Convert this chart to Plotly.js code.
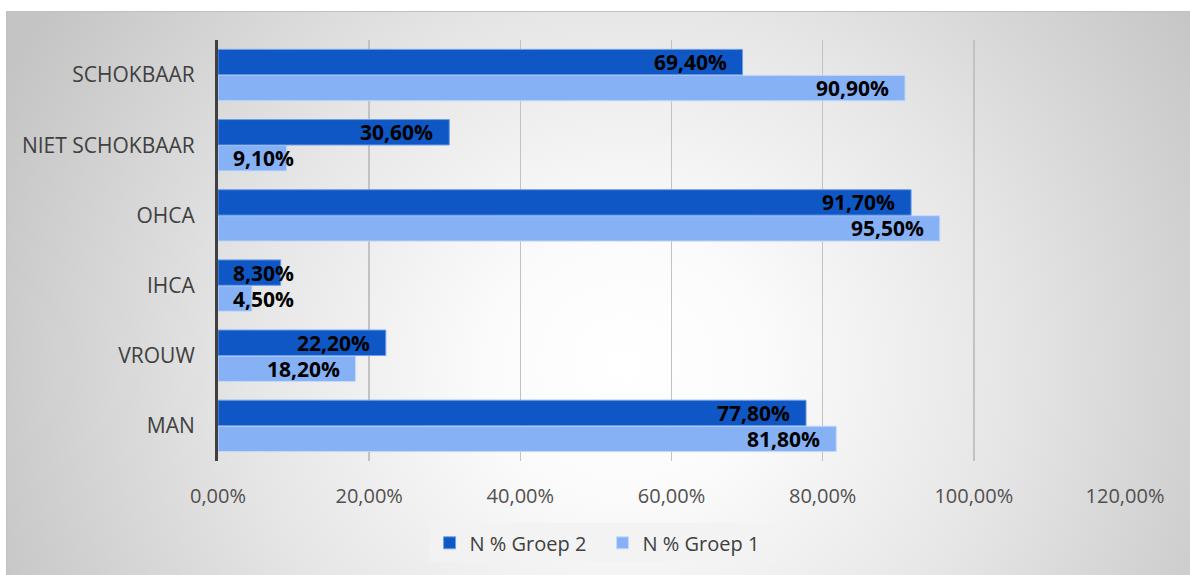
<!DOCTYPE html>
<html>
<head>
<meta charset="utf-8">
<script src="https://cdn.plot.ly/plotly-3.0.1.min.js"></script>
<style>
  html, body { margin: 0; padding: 0; width: 1190px; height: 575px; overflow: hidden; background: #ffffff; }
  #bg { position: absolute; left: 6px; top: 11px; width: 1190px; height: 570px;
        border-left: 1px solid #c0c0c0; border-top: 1px solid #c0c0c0;
        background: radial-gradient(ellipse 58% 115% at 52% 62%, #ffffff 0%, #fbfbfb 20%, #e6e6e6 55%, #c4c4c4 100%); }
  #chart { position: absolute; left: 0; top: 0; width: 1190px; height: 575px; }
</style>
</head>
<body>
<div id="bg"></div>
<div id="chart"></div>
<script>
const categories = ["MAN", "VROUW", "IHCA", "OHCA", "NIET SCHOKBAAR", "SCHOKBAAR"];
const groep2 = [77.8, 22.2, 8.3, 91.7, 30.6, 69.4];
const groep1 = [81.8, 18.2, 4.5, 95.5, 9.1, 90.9];
const tickVals = [0, 20, 40, 60, 80, 100, 120];
const tickText = ["0,00%", "20,00%", "40,00%", "60,00%", "80,00%", "100,00%", "120,00%"];
const name2 = "N % Groep 2";
const name1 = "N % Groep 1";

const fmt = v => v.toFixed(2).replace(".", ",") + "%";

const traces = [
  { type: "bar", orientation: "h", name: name1, y: categories, x: groep1,
    marker: { color: "#86b1f5", line: { color: "#c5dafb", width: 1 } }, hoverinfo: "x+y" },
  { type: "bar", orientation: "h", name: name2, y: categories, x: groep2,
    marker: { color: "#0f57c4", line: { color: "#6d9ee8", width: 1 } }, hoverinfo: "x+y" }
];

const annotations = [];
function addLabels(vals, shift) {
  vals.forEach((v, i) => {
    const small = v < 12;
    annotations.push({
      x: small ? 0 : v, y: categories[i], xref: "x", yref: "y",
      text: fmt(v), showarrow: false,
      xanchor: small ? "left" : "right",
      xshift: small ? 13 : -14, yshift: shift,
      font: { family: "Open Sans, sans-serif", size: 21, color: "#000000", weight: "bold" }
    });
  });
}
addLabels(groep2, 13);
addLabels(groep1, -13);

const layout = {
  width: 1190, height: 575,
  paper_bgcolor: "rgba(0,0,0,0)", plot_bgcolor: "rgba(0,0,0,0)",
  margin: { l: 218, r: 65, t: 40, b: 114 },
  barmode: "group", bargap: 0.26, bargroupgap: 0.02,
  font: { family: "Open Sans, sans-serif" },
  showlegend: true,
  legend: { orientation: "h", traceorder: "reversed", x: 0.424, xanchor: "center", y: -0.148, yanchor: "top",
            bgcolor: "rgba(242,242,242,0.85)", font: { size: 20, color: "#404040" },
            itemwidth: 30, entrywidth: 128 },
  xaxis: { range: [0, 120], tickvals: tickVals, ticktext: tickText, showgrid: true, gridcolor: "#c2c2c2", gridwidth: 1.5,
           zeroline: false, showline: false, ticks: "outside", ticklen: 17, tickcolor: "rgba(0,0,0,0)",
           tickfont: { size: 20, color: "#505050" }, fixedrange: true },
  yaxis: { type: "category", categoryorder: "array", categoryarray: categories, showline: true, linecolor: "#404040",
           linewidth: 3, showgrid: false, ticks: "outside", ticklen: 16, tickcolor: "rgba(0,0,0,0)",
           tickfont: { size: 21, color: "#404040" }, fixedrange: true },
  annotations: annotations
};

Plotly.newPlot("chart", traces, layout, { displayModeBar: false, staticPlot: true });
</script>
</body>
</html>
